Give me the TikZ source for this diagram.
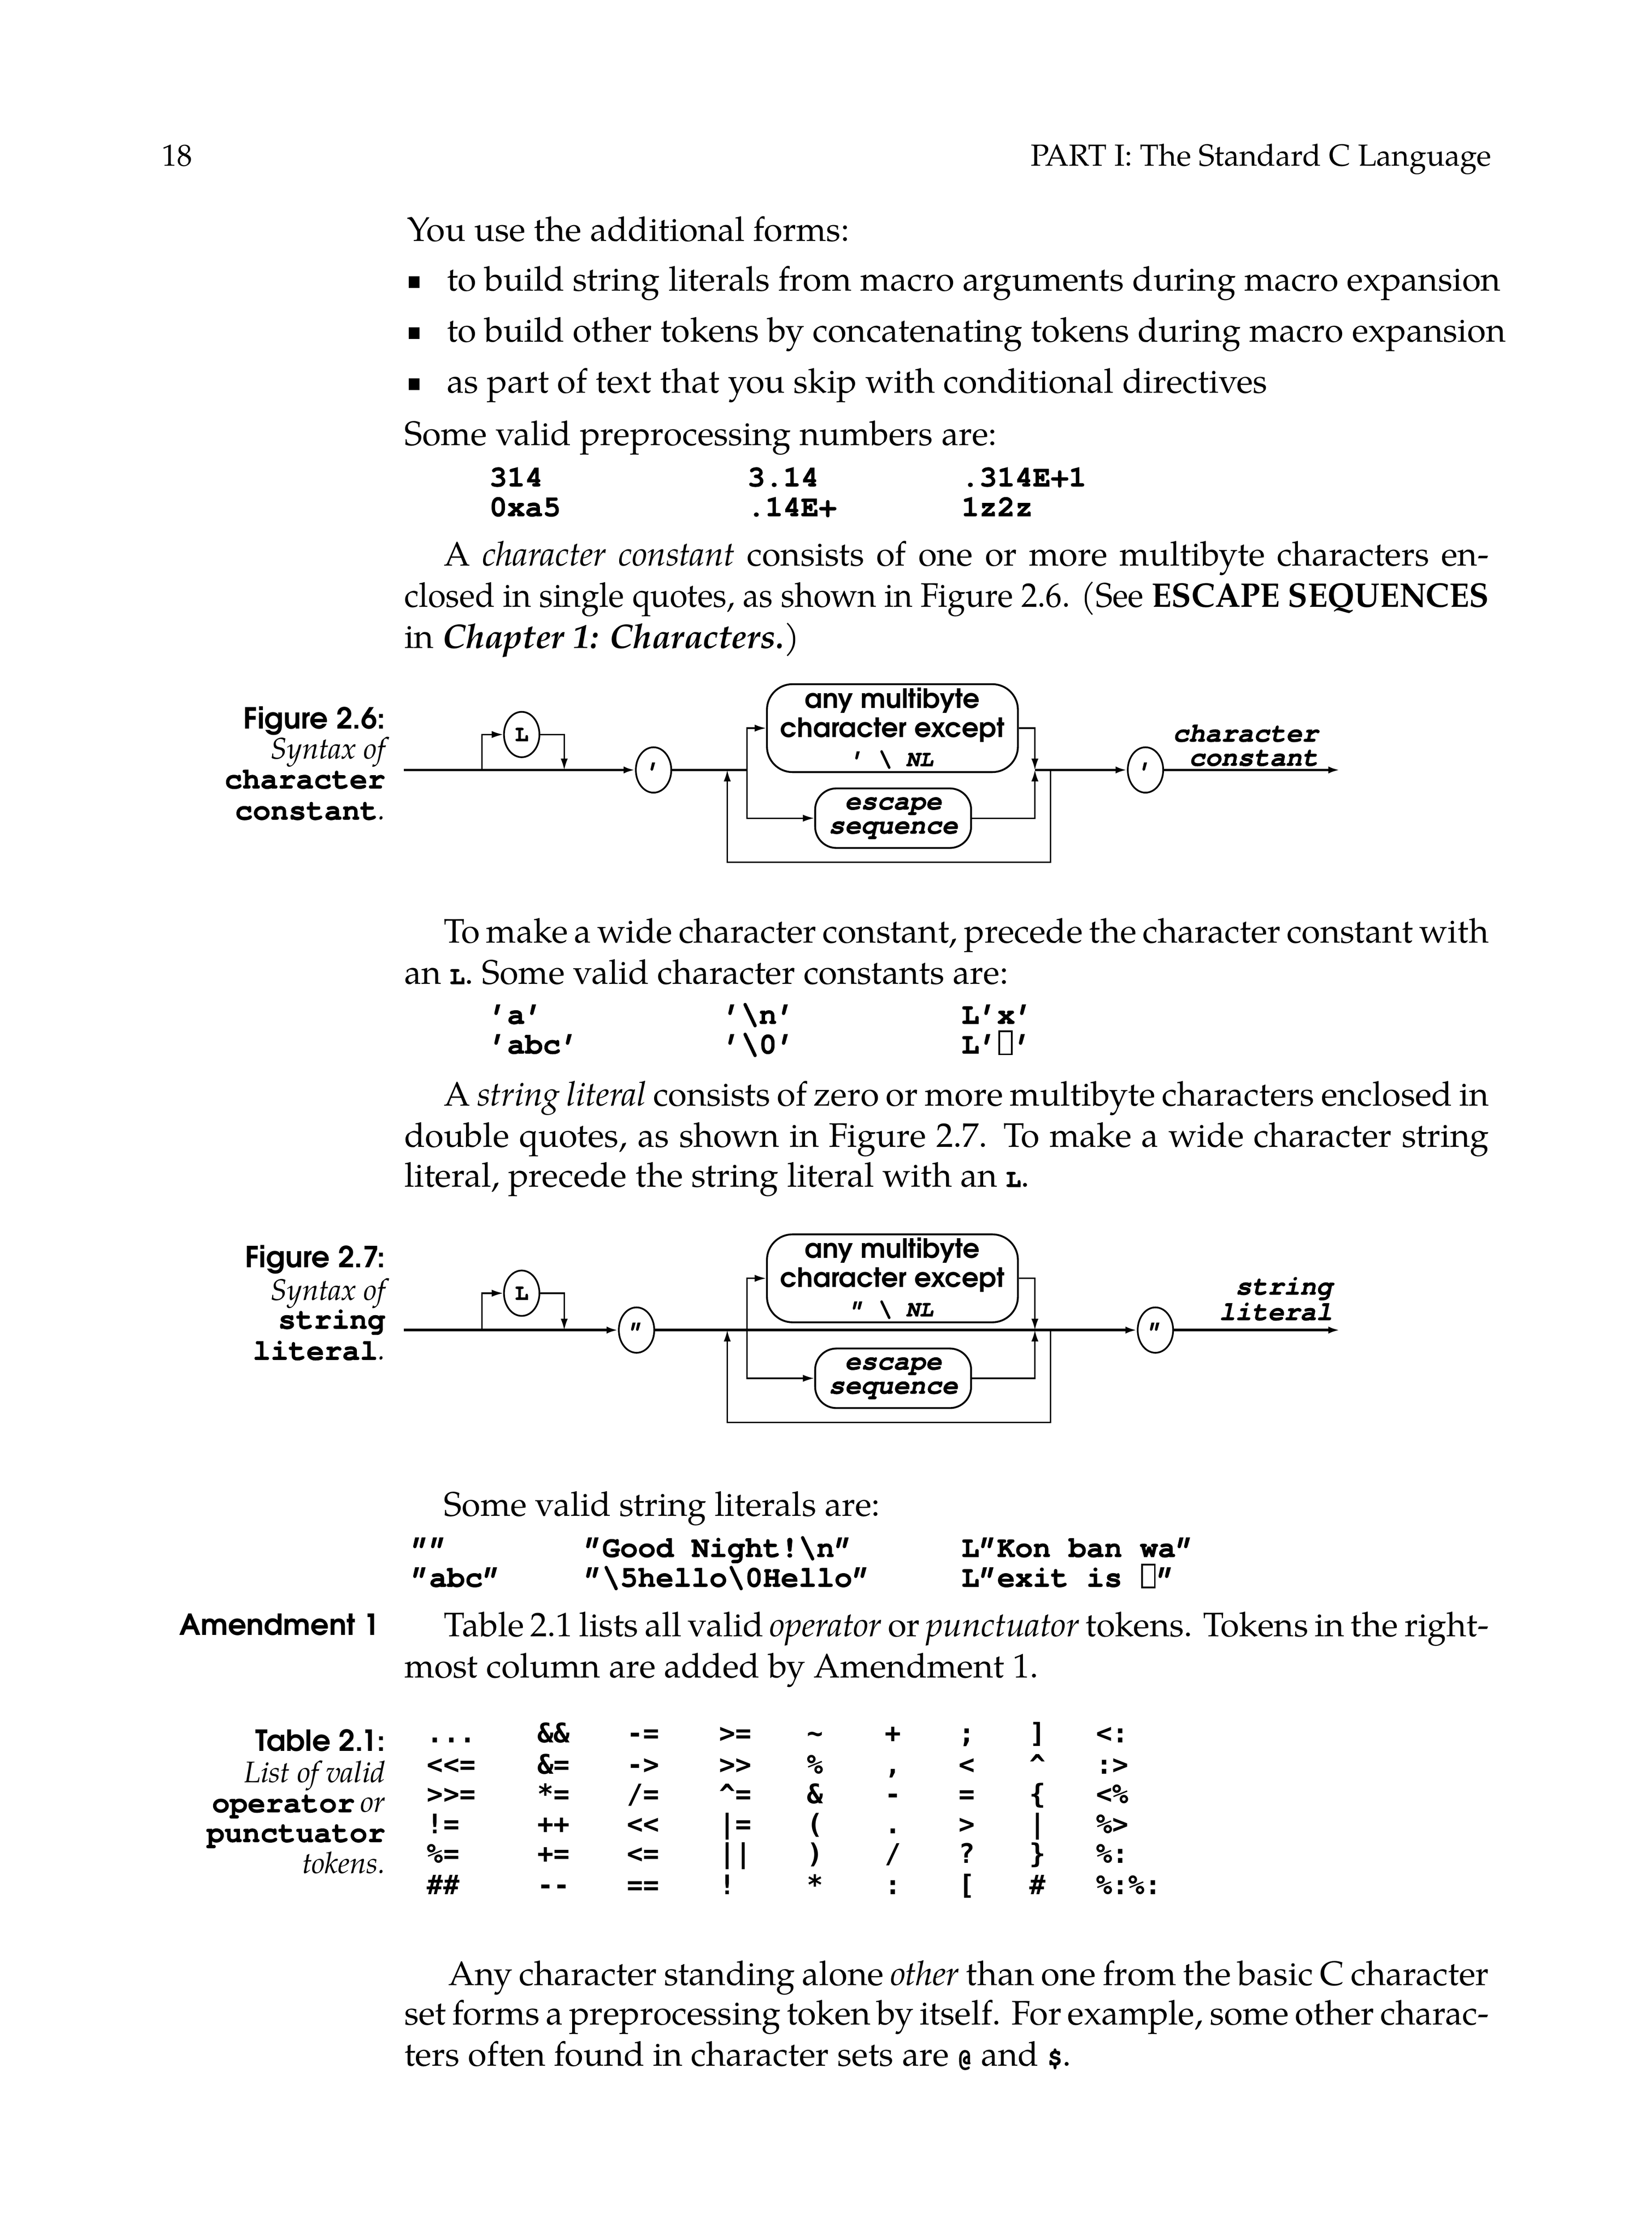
\documentclass[tikz,border=0pt]{standalone}
\usepackage{fontspec}
\usepackage{graphicx}
\usetikzlibrary{arrows.meta,shapes.geometric}
\setmainfont{TeX Gyre Pagella}
\newfontfamily\courf{TeX Gyre Cursor}[Ligatures=TeX,BoldFeatures={FakeBold=1.3},BoldItalicFeatures={FakeBold=1.3}]
\newfontfamily\agf{TeX Gyre Adventor}
\newfontfamily\tabfam{DejaVu Sans Mono}
\newcommand\bodyf{\fontsize{24}{29}\selectfont}
\newcommand\hdrf{\fontsize{21.5}{26}\selectfont}
\newcommand\cwf{\courf\bfseries\fontsize{21}{21}\selectfont}
\newcommand\cwsm{\courf\bfseries\fontsize{18}{18}\selectfont}
\newcommand\capag{\agf\bfseries\fontsize{20.5}{22}\selectfont}
\newcommand\capit{\itshape\fontsize{21}{22}\selectfont}
\newcommand\diagag{\agf\bfseries\fontsize{18.8}{20.5}\selectfont}
\newcommand\diagcw{\courf\bfseries\itshape\fontsize{19}{17}\selectfont}
\newcommand\ovalcw{\courf\bfseries\fontsize{16}{16}\selectfont}
\newcommand\tabff{\tabfam\bfseries\fontsize{19}{19}\selectfont}
\newcommand\hbx{\kern0.04em{\fboxsep=0pt\fboxrule=1.1pt\framebox[0.48em]{\rule{0pt}{0.72em}}}\kern0.04em}
\newcommand\cw[1]{{\cwsm #1}}
\newcommand\jline[2]{\makebox[#1][s]{#2}}
\begin{document}
\begin{tikzpicture}[x=1pt,y=-1pt,
  txt/.style={anchor=base west,inner sep=0pt,font=\bodyf},
  txtr/.style={anchor=base east,inner sep=0pt,font=\hdrf},
  code/.style={anchor=base west,inner sep=0pt,font=\cwf},
  capr/.style={anchor=base east,inner sep=0pt},
  tabc/.style={anchor=base west,inner sep=0pt,font=\tabff},
  bul/.style={rectangle,fill=black,minimum width=7.5pt,minimum height=8pt,inner sep=0pt},
  oval/.style={ellipse,draw,line width=1.2pt,minimum width=25pt,minimum height=32pt,inner sep=0pt,font=\ovalcw},
  boxa/.style={draw,line width=1.3pt,rounded corners=18pt,minimum width=177pt,minimum height=62pt,inner sep=0pt,align=center,font=\diagag},
  boxb/.style={draw,line width=1.3pt,rounded corners=15pt,minimum width=110pt,minimum height=42pt,inner sep=0pt,align=center,font=\diagcw},
  lbl/.style={anchor=base east,inner sep=0pt,font=\diagcw},
  mainln/.style={line width=1.8pt},
  thinln/.style={line width=1pt},
  arr/.style={-{Latex[length=8pt,width=5pt]}}]
\fill[white] (0,0) rectangle (1165,1579);
\useasboundingbox (0,0) rectangle (1165,1579);

% header
\node[txt,font=\hdrf] (pg) at (114,117) {18};
\node[txtr] (hdr) at (1052,117) {PART I: The Standard C Language};

% intro
\node[txt] (l1) at (287,170) {You use the additional forms:};
\node[bul] (bu1) at (292,199) {};
\node[txt] (l2) at (315,205) {to build string literals from macro arguments during macro expansion};
\node[bul] (bu2) at (292,235) {};
\node[txt] (l3) at (315,241) {to build other tokens by concatenating tokens during macro expansion};
\node[bul] (bu3) at (292,271) {};
\node[txt] (l4) at (315,277) {as part of text that you skip with conditional directives};
\node[txt] (l5) at (285,314) {Some valid preprocessing numbers are:};

\node[code] (n1) at (345,343) {314};
\node[code] (n2) at (527,343) {3.14};
\node[code] (n3) at (678,343) {.314E+1};
\node[code] (n4) at (345,364) {0xa5};
\node[code] (n5) at (527,364) {.14E+};
\node[code] (n6) at (678,364) {1z2z};

\node[txt] (p1) at (313,399) {\jline{737pt}{A \textit{character constant} consists of one or more multibyte characters en-}};
\node[txt] (p2) at (285,428) {\resizebox{765pt}{\height}{closed in single quotes, as shown in Figure 2.6. (See \textbf{ESCAPE SEQUENCES}}};
\node[txt] (p3) at (285,457) {in \textbf{\textit{Chapter 1: Characters.}})};

% Figure 2.6 caption
\node[capr,font=\capag] (c6a) at (272,514) {Figure 2.6:};
\node[capr,font=\capit] (c6b) at (272,535) {Syntax of};
\node[capr,font=\cwf] (c6c) at (272,556) {character};
\node[capr] (c6d) at (272,578) {{\cwf constant}{\capit .}};

% Figure 2.6 diagram
\coordinate (s6) at (285,543);
\coordinate (bl6) at (340,543);
\node[oval] (L6) at (368,518) {L};
\coordinate (br6) at (398,543);
\node[oval] (qa6) at (461,543) {'};
\coordinate (ll6) at (513,543);
\coordinate (sp6) at (527,543);
\node[boxa] (A6) at (629.5,513.5) {any multibyte\\character except\\{\ovalcw ' \textbackslash{} \textit{NL}}};
\node[boxb] (B6) at (630,577) {escape\\sequence};
\coordinate (jn6) at (730,543);
\coordinate (lr6) at (741,543);
\coordinate (lrb6) at (741,608);
\coordinate (llb6) at (513,608);
\node[oval] (qb6) at (808,543) {'};
\coordinate (e6) at (945,543);
\node[lbl] (lab6a) at (930,523) {character};
\node[lbl] (lab6b) at (930,540) {constant};

\draw[mainln,arr] (s6) -- (qa6);
\draw[thinln,arr] (bl6) |- (L6);
\draw[thinln,arr] (L6) -| (br6);
\draw[mainln] (qa6) -- (sp6);
\draw[thinln,arr] (sp6) |- (A6);
\draw[thinln,arr] (sp6) |- (B6);
\draw[thinln,arr] (A6) -| (jn6);
\draw[thinln,arr] (B6) -| (jn6);
\draw[mainln,arr] (jn6) -- (qb6);
\draw[mainln,arr] (qb6) -- (e6);
\draw[thinln,arr] (lr6) -- (lrb6) -- (llb6) -- (ll6);

% wide char text
\node[txt] (p4) at (313,665) {\jline{737pt}{To make a wide character constant, precede the character constant with}};
\node[txt] (p5) at (285,694) {an \cw{L}. Some valid character constants are:};

\node[code] (k1) at (345,722) {'a'};
\node[code] (k2) at (510,722) {'\textbackslash n'};
\node[code] (k3) at (678,722) {L'x'};
\node[code] (k4) at (345,743) {'abc'};
\node[code] (k5) at (510,743) {'\textbackslash 0'};
\node[code] (k6) at (678,743) {L'\hbx'};

\node[txt] (p6) at (313,780) {\jline{737pt}{A \textit{string literal} consists of zero or more multibyte characters enclosed in}};
\node[txt] (p7) at (285,809) {\jline{765pt}{double quotes, as shown in Figure 2.7. To make a wide character string}};
\node[txt] (p8) at (285,837) {literal, precede the string literal with an \cw{L}.};

% Figure 2.7 caption
\node[capr,font=\capag] (c7a) at (272,894) {Figure 2.7:};
\node[capr,font=\capit] (c7b) at (272,917) {Syntax of};
\node[capr,font=\cwf] (c7c) at (272,937) {string};
\node[capr] (c7d) at (272,959) {{\cwf literal}{\capit .}};

% Figure 2.7 diagram
\coordinate (s7) at (285,938);
\coordinate (bl7) at (340,938);
\node[oval] (L7) at (368,912) {L};
\coordinate (br7) at (398,938);
\node[oval] (qa7) at (449,938) {"};
\coordinate (ll7) at (513,938);
\coordinate (sp7) at (527,938);
\node[boxa] (A7) at (629.5,901.5) {any multibyte\\character except\\{\ovalcw " \textbackslash{} \textit{NL}}};
\node[boxb] (B7) at (630,972) {escape\\sequence};
\coordinate (jn7) at (730,938);
\coordinate (lr7) at (741,938);
\coordinate (lrb7) at (741,1003);
\coordinate (llb7) at (513,1003);
\node[oval] (qb7) at (815,938) {"};
\coordinate (e7) at (945,938);
\node[lbl] (lab7a) at (940,913) {string};
\node[lbl] (lab7b) at (940,931) {literal};

\draw[mainln,arr] (s7) -- (qa7);
\draw[thinln,arr] (bl7) |- (L7);
\draw[thinln,arr] (L7) -| (br7);
\draw[mainln,arr] (qa7) -- (qb7);
\draw[thinln,arr] (sp7) |- (A7);
\draw[thinln,arr] (sp7) |- (B7);
\draw[thinln,arr] (A7) -| (jn7);
\draw[thinln,arr] (B7) -| (jn7);
\draw[mainln,arr] (qb7) -- (e7);
\draw[thinln,arr] (lr7) -- (lrb7) -- (llb7) -- (ll7);

% string literals
\node[txt] (p9) at (313,1069) {Some valid string literals are:};
\node[code] (r1) at (290,1098) {""};
\node[code] (r2) at (412,1098) {"Good Night!\textbackslash n"};
\node[code] (r3) at (678,1098) {L"Kon ban wa"};
\node[code] (r4) at (290,1119) {"abc"};
\node[code] (r5) at (412,1119) {"\textbackslash 5hello\textbackslash 0Hello"};
\node[code] (r6) at (678,1119) {L"exit is \hbx"};

% Amendment
\node[capr,font=\capag] (amd) at (268,1153) {Amendment 1};
\node[txt] (p10) at (313,1154) {\jline{737pt}{Table 2.1 lists all valid \textit{operator} or \textit{punctuator} tokens. Tokens in the right-}};
\node[txt] (p11) at (285,1183) {most column are added by Amendment 1.};

% Table caption
\node[capr,font=\capag] (t0a) at (272,1235) {Table 2.1:};
\node[capr,font=\capit] (t0b) at (272,1257) {List of valid};
\node[capr] (t0c) at (272,1278) {{\cwf operator}\hspace{4pt}{\capit or}};
\node[capr,font=\cwf] (t0d) at (272,1299) {punctuator};
\node[capr,font=\capit] (t0e) at (272,1321) {tokens.};

% Table entries
\node[tabc] (t11) at (301,1229) {...};
\node[tabc] (t12) at (301,1251) {<{}<=};
\node[tabc] (t13) at (301,1272) {>{}>=};
\node[tabc] (t14) at (301,1293) {!=};
\node[tabc] (t15) at (301,1314) {\%=};
\node[tabc] (t16) at (301,1336) {\#\#};

\node[tabc] (t21) at (379,1229) {\&\&};
\node[tabc] (t22) at (379,1251) {\&=};
\node[tabc] (t23) at (379,1272) {*=};
\node[tabc] (t24) at (379,1293) {++};
\node[tabc] (t25) at (379,1314) {+=};
\node[tabc] (t26) at (379,1336) {-{}-};

\node[tabc] (t31) at (442,1229) {-=};
\node[tabc] (t32) at (442,1251) {->};
\node[tabc] (t33) at (442,1272) {/=};
\node[tabc] (t34) at (442,1293) {<{}<};
\node[tabc] (t35) at (442,1314) {<=};
\node[tabc] (t36) at (442,1336) {==};

\node[tabc] (t41) at (507,1229) {>=};
\node[tabc] (t42) at (507,1251) {>{}>};
\node[tabc] (t43) at (507,1272) {\textasciicircum=};
\node[tabc] (t44) at (507,1293) {|=};
\node[tabc] (t45) at (507,1314) {||};
\node[tabc] (t46) at (507,1336) {!};

\node[tabc] (t51) at (569,1229) {\textasciitilde};
\node[tabc] (t52) at (569,1251) {\%};
\node[tabc] (t53) at (569,1272) {\&};
\node[tabc] (t54) at (569,1293) {(};
\node[tabc] (t55) at (569,1314) {)};
\node[tabc] (t56) at (569,1336) {*};

\node[tabc] (t61) at (624,1229) {+};
\node[tabc] (t62) at (624,1251) {,};
\node[tabc] (t63) at (624,1272) {-};
\node[tabc] (t64) at (624,1293) {.};
\node[tabc] (t65) at (624,1314) {/};
\node[tabc] (t66) at (624,1336) {:};

\node[tabc] (t71) at (676,1229) {;};
\node[tabc] (t72) at (676,1251) {<};
\node[tabc] (t73) at (676,1272) {=};
\node[tabc] (t74) at (676,1293) {>};
\node[tabc] (t75) at (676,1314) {?};
\node[tabc] (t76) at (676,1336) {[};

\node[tabc] (t81) at (726,1229) {]};
\node[tabc] (t82) at (726,1251) {\textasciicircum};
\node[tabc] (t83) at (726,1272) {\{};
\node[tabc] (t84) at (726,1293) {|};
\node[tabc] (t85) at (726,1314) {\}};
\node[tabc] (t86) at (726,1336) {\#};

\node[tabc] (t91) at (773,1229) {<:};
\node[tabc] (t92) at (773,1251) {:>};
\node[tabc] (t93) at (773,1272) {<\%};
\node[tabc] (t94) at (773,1293) {\%>};
\node[tabc] (t95) at (773,1314) {\%:};
\node[tabc] (t96) at (773,1336) {\%:\%:};

% final paragraph
\node[txt] (p12) at (316,1400) {\jline{734pt}{Any character standing alone \textit{other} than one from the basic C character}};
\node[txt] (p13) at (285,1428) {\jline{765pt}{set forms a preprocessing token by itself. For example, some other charac-}};
\node[txt] (p14) at (285,1457) {ters often found in character sets are \cw{@} and \cw{\$}.};
\end{tikzpicture}
\end{document}
